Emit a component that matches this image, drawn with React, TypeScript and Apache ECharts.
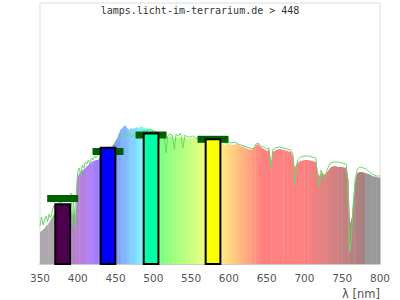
import React, { useEffect, useRef } from "react";
import * as echarts from "echarts";

const titleText = "lamps.licht-im-terrarium.de > 448";
const axisName = "λ [nm]";

// measured spectrum (filled, coloured by wavelength)
const fillWl = [350, 352, 355, 358, 361, 364, 367, 370, 375, 380, 385, 390, 393, 395, 397, 399, 402, 405, 408, 411, 415, 418, 421, 424, 427, 430, 440, 450, 453, 456, 459, 462, 465, 468, 471, 474, 477, 480, 483, 486, 490, 500, 510, 514, 517, 520, 525, 527, 530, 535, 540, 545, 550, 555, 560, 570, 580, 590, 592, 595, 600, 605, 610, 615, 620, 625, 630, 635, 638, 642, 646, 650, 653, 656, 658, 662, 667, 672, 677, 682, 685, 687, 690, 695, 700, 705, 710, 715, 718, 720, 723, 726, 729, 732, 735, 740, 745, 750, 755, 758, 760, 763, 766, 769, 772, 776, 780, 785, 790, 795, 800];
const fillVals = [32, 33, 35, 38, 40, 44, 48, 52, 54, 56, 58, 58, 46, 56, 44, 86, 91, 93, 95, 97, 100, 102, 103, 104, 104, 109, 114, 122, 128, 134, 136, 139, 136, 134, 136, 135, 137, 136, 137, 137, 136, 134, 129, 128, 126, 127, 128, 125, 127, 126, 127, 125, 126, 126, 125, 124, 124, 122, 120, 119, 120, 119, 120, 118, 117, 115, 114, 118, 120, 117, 115, 113, 114, 101, 112, 114, 115, 114, 113, 112, 106, 96, 101, 103, 104, 104, 103, 102, 90, 88, 92, 89, 91, 94, 97, 98, 97, 97, 96, 84, 39, 49, 79, 90, 92, 92, 91, 90, 88, 87, 86];

// reference spectrum (green line)
const lineWl = [350, 352, 354, 356, 358, 360, 362, 364, 366, 368, 370, 375, 380, 385, 390, 391, 393, 394, 396, 397, 398, 400, 402, 404, 406, 408, 410, 412, 414, 416, 418, 420, 422, 424, 427, 435, 445, 451, 454, 457, 460, 463, 466, 469, 472, 475, 478, 481, 484, 487, 490, 495, 500, 505, 510, 514, 517, 519, 522, 525, 528, 530, 533, 536, 539, 542, 545, 548, 552, 556, 560, 570, 580, 590, 593, 597, 600, 604, 608, 612, 616, 620, 624, 628, 632, 636, 639, 642, 646, 650, 653, 656, 658, 662, 667, 672, 677, 682, 685, 687, 689, 691, 695, 700, 705, 710, 715, 718, 720, 722, 725, 728, 731, 734, 740, 745, 750, 755, 757, 759, 760, 762, 764, 767, 770, 774, 778, 782, 786, 790, 795, 800];
const lineVals = [38, 47, 39, 44, 48, 42, 50, 46, 52, 58, 59, 61, 62, 64, 68, 71, 39, 64, 49, 34, 74, 92, 96, 89, 99, 96, 102, 100, 104, 101, 106, 104, 108, 106, 109, 112, 116, 124, 126, 129, 127, 131, 128, 130, 127, 130, 131, 129, 132, 134, 133, 135, 133, 132, 130, 130, 111, 128, 130, 129, 114, 130, 128, 131, 116, 129, 127, 127, 128, 126, 125, 124, 124, 123, 122, 120, 122, 121, 122, 120, 119, 118, 117, 116, 115, 120, 121, 118, 117, 115, 116, 96, 114, 116, 117, 116, 115, 114, 109, 79, 94, 104, 107, 108, 108, 107, 106, 84, 77, 94, 86, 90, 96, 101, 102, 102, 101, 100, 89, 34, 12, 24, 54, 84, 95, 97, 96, 95, 92, 90, 88, 88];

// LED channels (bars) and target markers (caps)
const barWl = [380, 440, 497, 579];
const barVals = [59.7, 116.3, 130.5, 124.7];
const capVals = [65.6, 112.5, 129, 124.7];

const BAR_W = 19.5; // nm
const CAP_W = 41; // nm

function bruton(l: number): [number, number, number] {
  let r = 0, g = 0, b = 0;
  if (l >= 380 && l < 440) { r = -(l - 440) / 60; b = 1; }
  else if (l >= 440 && l < 490) { g = (l - 440) / 50; b = 1; }
  else if (l >= 490 && l < 510) { g = 1; b = -(l - 510) / 20; }
  else if (l >= 510 && l < 580) { r = (l - 510) / 70; g = 1; }
  else if (l >= 580 && l < 645) { r = 1; g = -(l - 645) / 65; }
  else if (l >= 645 && l <= 780) { r = 1; }
  let f = 1;
  if (l >= 380 && l < 420) f = 0.3 + (0.7 * (l - 380)) / 40;
  else if (l > 700 && l <= 780) f = 0.3 + (0.7 * (780 - l)) / 80;
  return [r * f, g * f, b * f];
}
const rgb = (a: number[]) => `rgb(${a.map((v) => Math.round(v)).join(",")})`;
const pureColor = (l: number) => rgb(bruton(l).map((c) => c * 255));
const fillColor = (l: number) => {
  if (l < 380) return "#aea6ae";
  if (l > 780) return "#999999";
  return rgb(bruton(l).map((c) => (255 * (c + 1)) / 2));
};

export default function App() {
  const ref = useRef<HTMLDivElement>(null);
  useEffect(() => {
    if (!ref.current) return;
    const chart = echarts.init(ref.current, null, { renderer: "svg" });
    const fillData = fillWl.slice(0, -1).map((w, i) => [w, fillWl[i + 1], fillVals[i], fillVals[i + 1]]);
    const barData = barWl.map((w, i) => [w, barVals[i]]);
    const capData = barWl.map((w, i) => [w, capVals[i]]);
    chart.setOption({
      animation: false,
      backgroundColor: "#ffffff",
      grid: { left: 40, right: 20, top: 3, bottom: 36, show: true, borderColor: "#dddddd", borderWidth: 1 },
      xAxis: {
        type: "value", min: 350, max: 800, interval: 50,
        splitLine: { show: false }, axisTick: { show: false },
        axisLine: { show: true, lineStyle: { color: "#cccccc", width: 2 } },
        axisLabel: { color: "#555555", fontSize: 10.5, fontFamily: "DejaVu Sans", margin: 8 },
      },
      yAxis: { type: "value", min: 0, max: 261, show: false, splitLine: { show: false } },
      graphic: [
        { type: "text", left: "center", top: 5, style: { text: titleText, fontFamily: "DejaVu Sans Mono", fontSize: 10, fill: "#333333" } },
        { type: "text", right: 20, top: 288, style: { text: axisName, fontFamily: "DejaVu Sans", fontSize: 11.5, fill: "#555555" } },
      ],
      series: [
        {
          type: "custom", z: 1, data: fillData, encode: { x: [0, 1], y: 2 },
          renderItem: (params: any, api: any) => {
            const a = api.value(0), b = api.value(1), va = api.value(2), vb = api.value(3);
            const p0 = api.coord([a, 0]);
            const p1 = api.coord([a, va]);
            const p2 = api.coord([b, vb]);
            const p3 = api.coord([b, 0]);
            return {
              type: "polygon",
              shape: { points: [p0, p1, [p2[0] + 0.4, p2[1]], [p3[0] + 0.4, p3[1]]] },
              style: { fill: fillColor((a + b) / 2), stroke: null },
            };
          },
        },
        {
          type: "line", z: 3, data: lineWl.map((w, i) => [w, lineVals[i]]),
          showSymbol: false, symbol: "none",
          lineStyle: { color: "#66d966", width: 1 },
        },
        {
          type: "custom", z: 4, data: capData, encode: { x: 0, y: 1 },
          renderItem: (params: any, api: any) => {
            const w = api.value(0), v = api.value(1);
            const l = api.coord([w - CAP_W / 2, v]);
            const r = api.coord([w + CAP_W / 2, v]);
            return { type: "rect", shape: { x: l[0], y: l[1] - 3.5, width: r[0] - l[0], height: 7 }, style: { fill: "#006000" } };
          },
        },
        {
          type: "custom", z: 5, data: barData, encode: { x: 0, y: 1 },
          renderItem: (params: any, api: any) => {
            const w = api.value(0), v = api.value(1);
            const tl = api.coord([w - BAR_W / 2, v]);
            const br = api.coord([w + BAR_W / 2, 0]);
            return {
              type: "rect",
              shape: { x: tl[0], y: tl[1], width: br[0] - tl[0], height: br[1] - tl[1] },
              style: { fill: pureColor(w), stroke: "#000000", lineWidth: 2 },
            };
          },
        },
      ],
    });
    return () => chart.dispose();
  }, []);
  return <div ref={ref} style={{ position: "fixed", left: 0, top: 0, width: 400, height: 300 }} />;
}
